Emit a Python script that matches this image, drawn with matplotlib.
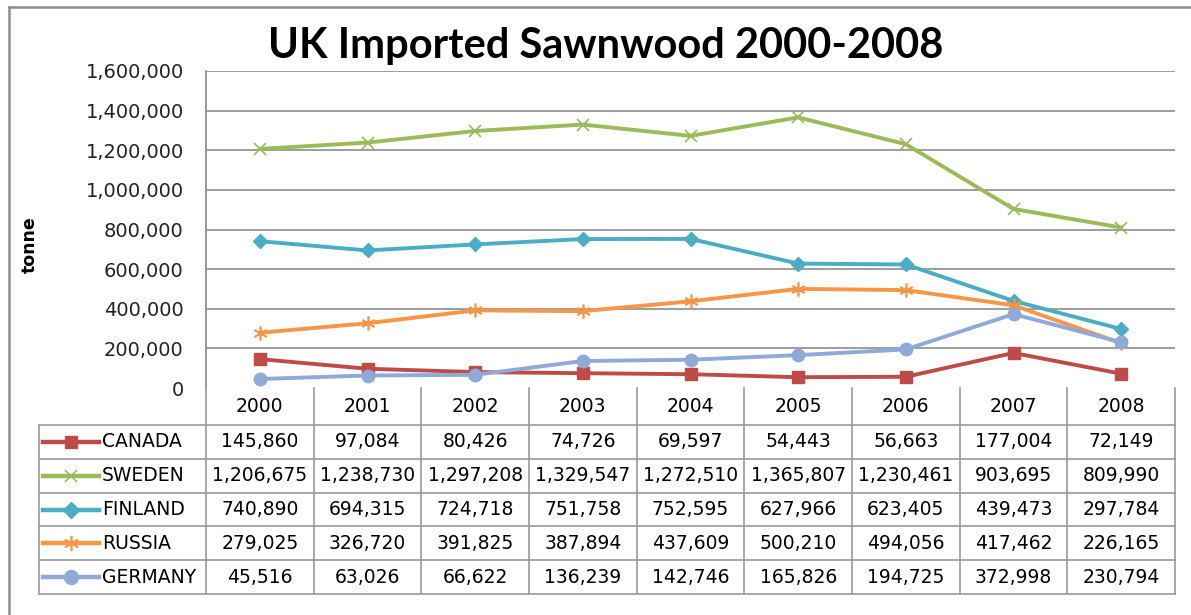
import matplotlib
matplotlib.use("Agg")
import matplotlib.pyplot as plt
from matplotlib.lines import Line2D
import numpy as np

years = ["2000", "2001", "2002", "2003", "2004", "2005", "2006", "2007", "2008"]
countries = ["CANADA", "SWEDEN", "FINLAND", "RUSSIA", "GERMANY"]
canada = [145860, 97084, 80426, 74726, 69597, 54443, 56663, 177004, 72149]
sweden = [1206675, 1238730, 1297208, 1329547, 1272510, 1365807, 1230461, 903695, 809990]
finland = [740890, 694315, 724718, 751758, 752595, 627966, 623405, 439473, 297784]
russia = [279025, 326720, 391825, 387894, 437609, 500210, 494056, 417462, 226165]
germany = [45516, 63026, 66622, 136239, 142746, 165826, 194725, 372998, 230794]

series = [canada, sweden, finland, russia, germany]
colors = ["#BE4B48", "#9BBB59", "#4BACC6", "#F79646", "#8FA9D8"]
markers = ["s", "x", "D", (6, 2, 0), "o"]
msizes = [8, 8, 7, 10, 9]

W, H = 1191, 615
fig = plt.figure(figsize=(W / 100, H / 100), dpi=100)
fig.patch.set_facecolor("white")

def fx(x):
    return x / W

def fy(y):
    return 1 - y / H

# outer chart border (cropped on right/bottom)
fig.add_artist(Line2D([fx(9), fx(W)], [fy(7), fy(7)], color="#8c8c8c", lw=1.8))
fig.add_artist(Line2D([fx(9), fx(9)], [fy(7), fy(H)], color="#8c8c8c", lw=1.8))

left, right, top, bottom = 206, 1175, 71, 388
ax = fig.add_axes([fx(left), fy(bottom), fx(right - left), (bottom - top) / H])
x = np.arange(len(years))
for vals, c, m, ms in zip(series, colors, markers, msizes):
    mew = 1.2 if m == "x" or isinstance(m, tuple) else 1
    ax.plot(x, vals, color=c, lw=2.8, marker=m, markersize=ms,
            markeredgewidth=mew, markeredgecolor=c, markerfacecolor=c, zorder=3)

ax.set_xlim(-0.5, len(years) - 0.5)
ax.set_ylim(0, 1600000)
ax.set_yticks(np.arange(0, 1600001, 200000))
ax.set_yticklabels([f"{v:,}" for v in range(0, 1600001, 200000)],
                   fontsize=14, color="#222222")
ax.tick_params(axis="y", length=0, pad=16)
ax.set_xticks([])
for yv in range(200000, 1600001, 200000):
    ax.axhline(yv, color="#8c8c8c", lw=1.2, zorder=1)
for s in ["top", "right", "bottom"]:
    ax.spines[s].set_visible(False)
ax.spines["left"].set_color("#8c8c8c")
ax.spines["left"].set_linewidth(1.2)

fig.text(fx(30), fy(245), "tonne", rotation=90, ha="center", va="center",
         fontsize=12.5, fontweight="bold")
fig.text(fx(606), fy(46), "UK Imported Sawnwood 2000-2008", ha="center", va="center",
         fontsize=30, fontweight="bold", family="Lato")

# data table below the plot
gc = "#9a9a9a"
col_w = (right - left) / len(years)
row_top = 425
row_h = 33.8
tab_left = 39
n = len(countries)
tab_bottom = row_top + n * row_h
for i in range(len(years) + 1):
    xx = left + i * col_w
    fig.add_artist(Line2D([fx(xx), fx(xx)], [fy(388 if i else 71), fy(tab_bottom)], color=gc, lw=1.2))
fig.add_artist(Line2D([fx(tab_left), fx(tab_left)], [fy(row_top), fy(tab_bottom)], color=gc, lw=1.2))
for j in range(n + 1):
    yy = row_top + j * row_h
    fig.add_artist(Line2D([fx(tab_left), fx(right)], [fy(yy), fy(yy)], color=gc, lw=1.2))

for i, yr in enumerate(years):
    fig.text(fx(left + (i + 0.5) * col_w), fy(407), yr, ha="center", va="center", fontsize=13.5)

for j, (name, vals, c, m, ms) in enumerate(zip(countries, series, colors, markers, msizes)):
    yc = row_top + (j + 0.5) * row_h
    fig.add_artist(Line2D([fx(43), fx(99)], [fy(yc), fy(yc)], color=c, lw=3.2))
    mew = 1.2 if m == "x" or isinstance(m, tuple) else 1
    fig.add_artist(Line2D([fx(71)], [fy(yc)], color=c, marker=m, markersize=ms + 1,
                          markeredgewidth=mew, markerfacecolor=c, markeredgecolor=c))
    fig.text(fx(102), fy(yc), name, ha="left", va="center", fontsize=13.5)
    for i, v in enumerate(vals):
        fig.text(fx(left + (i + 0.5) * col_w), fy(yc), f"{v:,}", ha="center", va="center",
                 fontsize=13.5)

fig.savefig("out.png", dpi=100)
